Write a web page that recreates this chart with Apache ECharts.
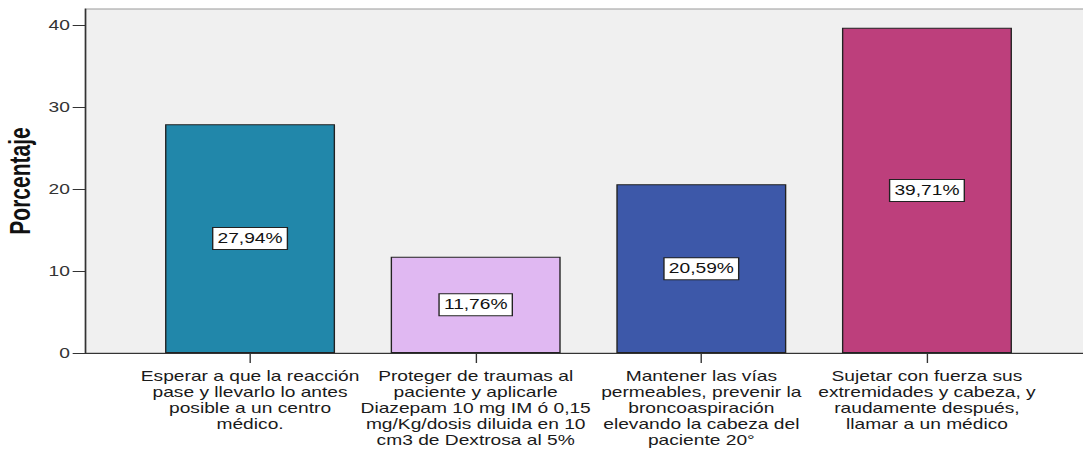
<!DOCTYPE html>
<html>
<head>
<meta charset="utf-8">
<script src="https://cdn.jsdelivr.net/npm/echarts@6/dist/echarts.min.js"></script>
<style>
  html, body { margin: 0; padding: 0; background: #fff; overflow: hidden; }
  /* the original picture is stretched sideways, so draw narrow and stretch */
  #main { width: 790px; height: 450px; transform: scaleX(1.3709); transform-origin: 0 0; }
</style>
</head>
<body>
<div id="main"></div>
<script>
var categorias = [
    'Esperar a que la reacción\npase y llevarlo lo antes\nposible a un centro\nmédico.',
    'Proteger de traumas al\npaciente y aplicarle\nDiazepam 10 mg IM ó 0,15\nmg/Kg/dosis diluida en 10\ncm3 de Dextrosa al 5%',
    'Mantener las vías\npermeables, prevenir la\nbroncoaspiración\nelevando la cabeza del\npaciente 20°',
    'Sujetar con fuerza sus\nextremidades y cabeza, y\nraudamente después,\nllamar a un médico'
];
var porcentajes = [27.94, 11.76, 20.59, 39.71];
var ticksY = [0, 10, 20, 30, 40];
var colores = ['#2187aa', '#e0b8f2', '#3d58a9', '#bd3f7c'];

// bars sit at positions 1..4 of the horizontal value scale
var posiciones = categorias.map(function (c, i) { return i + 1; });

var fuente = "'Liberation Sans', Arial, sans-serif";

var myChart = echarts.init(document.getElementById('main'), null, {renderer: 'svg'});

var option = {
    animation: false,
    backgroundColor: '#fff',
    grid: {
        left: 62,
        right: -5,
        top: 9,
        bottom: 97,
        containLabel: false,
        outerBoundsMode: 'none',
        show: true,
        backgroundColor: '#f0f0f0',
        borderColor: '#999',
        borderWidth: 1
    },
    xAxis: {
        type: 'value',
        min: 0.2685,
        max: 4.722,
        splitLine: {show: false},
        axisLine: {show: true, onZero: false, lineStyle: {color: '#333', width: 1}},
        axisTick: {show: true, length: 10, customValues: posiciones, lineStyle: {color: '#333'}},
        axisLabel: {
            customValues: posiciones,
            showMinLabel: true,
            showMaxLabel: true,
            hideOverlap: false,
            formatter: function (v) { return categorias[Math.round(v) - 1]; },
            fontFamily: fuente,
            fontSize: 14,
            lineHeight: 16,
            color: '#1a1a1a',
            margin: 15,
            align: 'center'
        }
    },
    yAxis: {
        type: 'value',
        min: 0,
        max: 42,
        interval: 10,
        name: 'Porcentaje',
        nameLocation: 'middle',
        nameGap: 35,
        nameTextStyle: {fontFamily: fuente, fontSize: 21, fontWeight: 'bold', color: '#111'},
        splitLine: {show: false},
        axisLine: {show: true, onZero: false, lineStyle: {color: '#333', width: 1}},
        axisTick: {show: true, length: 9, customValues: ticksY, lineStyle: {color: '#333'}},
        axisLabel: {
            customValues: ticksY,
            fontFamily: fuente,
            fontSize: 14,
            color: '#333',
            margin: 11
        }
    },
    series: [{
        type: 'bar',
        barWidth: 124,
        data: porcentajes.map(function (v, i) {
            return {value: [posiciones[i], v], itemStyle: {color: colores[i]}};
        }),
        itemStyle: {borderColor: '#222', borderWidth: 1},
        label: {
            show: true,
            position: 'inside',
            formatter: function (p) { return p.value[1].toFixed(2).replace('.', ',') + '%'; },
            fontFamily: fuente,
            fontSize: 14,
            color: '#111',
            backgroundColor: '#fff',
            borderColor: '#222',
            borderWidth: 1,
            padding: [4, 3, 3, 3]
        }
    }]
};

myChart.setOption(option);
</script>
</body>
</html>
